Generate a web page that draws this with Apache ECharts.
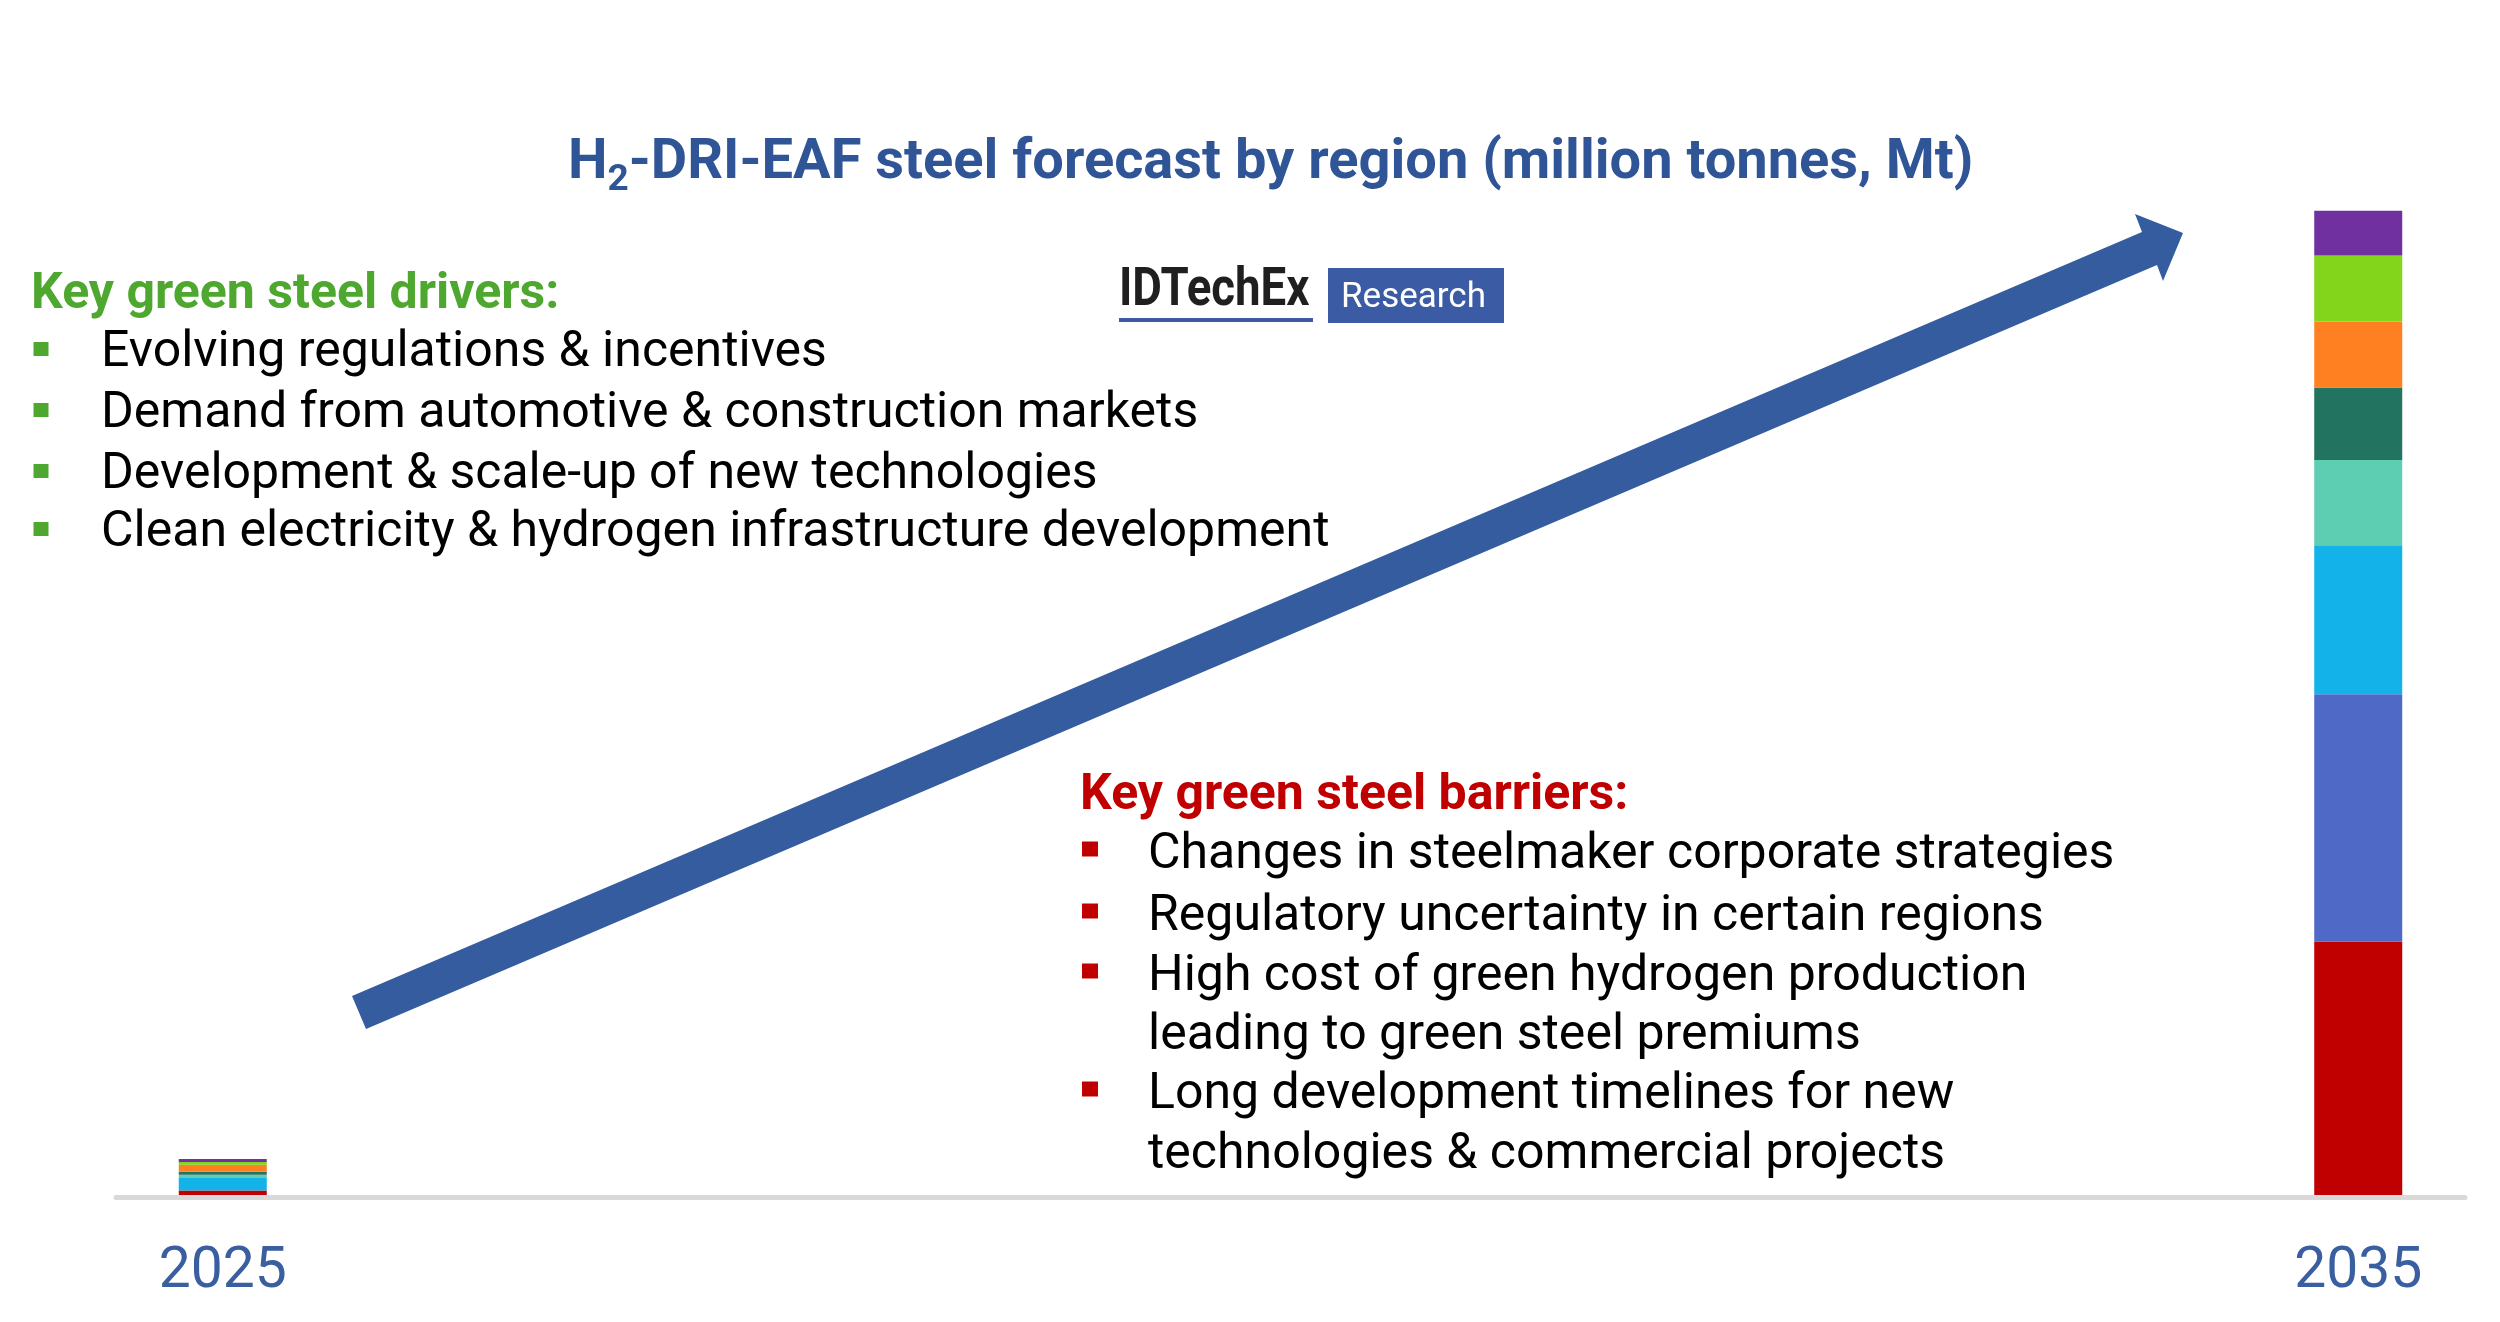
<!DOCTYPE html>
<html>
<head>
<meta charset="utf-8">
<title>H2-DRI-EAF steel forecast by region</title>
<script src="https://cdn.jsdelivr.net/npm/echarts@6/dist/echarts.min.js"></script>
<style>
  html, body { margin: 0; padding: 0; background: #fff; }
  #main { width: 2500px; height: 1322px; }
</style>
</head>
<body>
<div id="main"></div>
<script>
// years on the axis, only the two ends carry data
const years = ['2025', '2026', '2027', '2028', '2029', '2030', '2031', '2032', '2033', '2034', '2035'];
// regions, stacked bottom -> top (no legend in the original)
const regions = ['Region A', 'Region B', 'Region C', 'Region D', 'Region E', 'Region F', 'Region G', 'Region H'];
const regionColors = ['#C00000', '#4F69C6', '#13B3EA', '#5DCEB1', '#22735F', '#FF8021', '#82D51A', '#7030A0'];
// Mt
const mt2025 = [0.31, 0.0, 0.58, 0.15, 0.14, 0.33, 0.13, 0.14];
const mt2035 = [12.0, 11.6, 7.0, 4.0, 3.4, 3.1, 3.1, 2.1];

const drivers = [
    'Evolving regulations & incentives',
    'Demand from automotive & construction markets',
    'Development & scale-up of new technologies',
    'Clean electricity & hydrogen infrastructure development'
];
// [text, has bullet]
const barriers = [
    ['Changes in steelmaker corporate strategies', true],
    ['Regulatory uncertainty in certain regions', true],
    ['High cost of green hydrogen production', true],
    ['leading to green steel premiums', false],
    ['Long development timelines for new', true],
    ['technologies & commercial projects', false]
];

const blue = '#345C9F';
const green = '#4EA72E';
const red = '#C00000';

function txt(x, y, text, size, color, weight, extra) {
    return Object.assign({
        type: 'text', x: x, y: y, z: 20,
        style: {
            text: text, fill: color,
            fontFamily: 'Roboto', fontSize: size, fontWeight: weight || 'normal',
            align: 'left', textAlign: 'left',
            verticalAlign: 'middle', textVerticalAlign: 'middle'
        }
    }, extra || {});
}
function square(cx, cy, w, h, color) {
    return { type: 'rect', z: 20, shape: { x: cx - w / 2, y: cy - h / 2, width: w, height: h }, style: { fill: color } };
}

const graphics = [];
// big arrow
graphics.push({
    type: 'polygon', z: 5,
    shape: { points: [[352, 996], [2142, 232], [2135, 214], [2183, 233], [2163, 281], [2157, 265], [366, 1029]] },
    style: { fill: blue }
});
// logo
graphics.push(txt(1119, 292, 'IDTechEx', 53, '#1f1f1f', 'bold', { scaleX: 0.86, originX: 0, originY: 0 }));
graphics.push({ type: 'rect', z: 20, shape: { x: 1119, y: 318, width: 194, height: 4 }, style: { fill: '#3B5BA5' } });
graphics.push({ type: 'rect', z: 20, shape: { x: 1328, y: 268, width: 176, height: 55 }, style: { fill: '#3B5BA5' } });
graphics.push(txt(1341, 298, 'Research', 35, '#ffffff', 'normal'));

// drivers block
graphics.push(txt(31, 295, 'Key green steel drivers:', 50, green, 'bold'));
const driverY = [349, 410, 471, 529];
drivers.forEach(function (d, i) {
    graphics.push(square(41, driverY[i], 15, 14, green));
    graphics.push(txt(101, driverY[i] + 4, d, 50, '#000000', 'normal'));
});

// barriers block
graphics.push(txt(1080, 796, 'Key green steel barriers:', 50, red, 'bold'));
const barrierY = [850, 912, 972, 1031, 1090, 1150];
barriers.forEach(function (b, i) {
    if (b[1]) graphics.push(square(1090, barrierY[i] - 1, 16, 15, red));
    graphics.push(txt(1148, barrierY[i] + 5, b[0], 50, '#000000', 'normal'));
});

const series = regions.map(function (name, i) {
    const data = years.map(function () { return null; });
    data[0] = mt2025[i];
    data[years.length - 1] = mt2035[i];
    return {
        name: name,
        type: 'bar',
        stack: 'total',
        barWidth: 88,
        itemStyle: { color: regionColors[i] },
        data: data
    };
});

const option = {
    backgroundColor: '#ffffff',
    animation: false,
    title: {
        text: '{a|H}{s|2}{a|-DRI-EAF steel forecast by region (million tonnes, Mt)}',
        left: 568,
        top: 136,
        padding: 0,
        textStyle: {
            rich: {
                a: { fontFamily: 'Roboto', fontSize: 56, fontWeight: 'bold', color: '#2F5597', lineHeight: 56, verticalAlign: 'top' },
                s: { fontFamily: 'Roboto', fontSize: 37, fontWeight: 'bold', color: '#2F5597', lineHeight: 37, padding: [26, 0, 0, 0], verticalAlign: 'top' }
            }
        }
    },
    grid: { left: 116, right: 35, top: 132, bottom: 125 },
    xAxis: {
        type: 'category',
        data: years,
        z: 10,
        axisLine: { lineStyle: { color: '#D9D9D9', width: 5 } },
        axisTick: { show: false },
        axisLabel: {
            interval: 9,
            margin: 47,
            fontFamily: 'Roboto',
            fontSize: 57,
            color: '#3A5FA0'
        }
    },
    yAxis: {
        type: 'value',
        min: 0,
        max: 50,
        show: false,
        splitLine: { show: false }
    },
    graphic: graphics,
    series: series
};

const myChart = echarts.init(document.getElementById('main'));
myChart.setOption(option);
</script>
</body>
</html>
